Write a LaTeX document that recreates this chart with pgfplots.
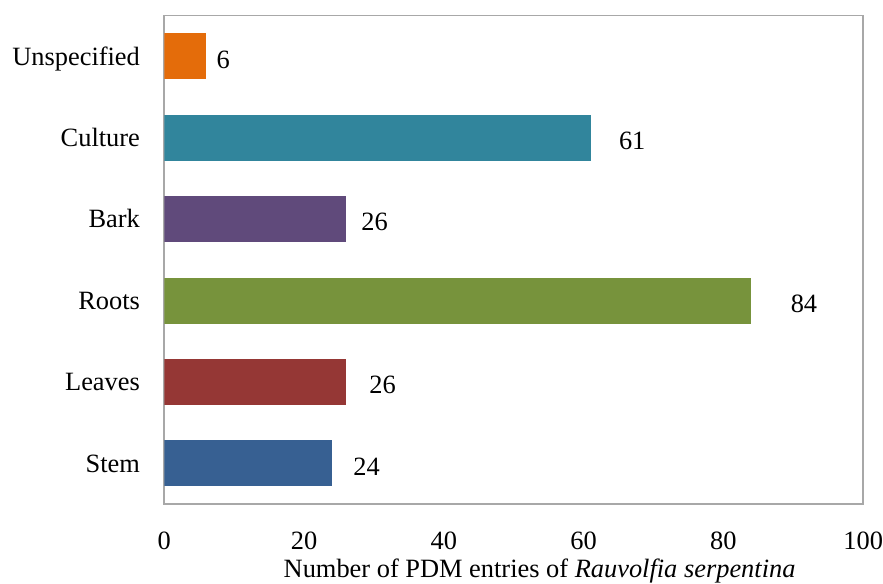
\documentclass[border=0pt]{standalone}
\usepackage{fontspec}
\setmainfont{Liberation Serif}
\usepackage{pgfplots}
\pgfplotsset{compat=1.18}

\definecolor{cStem}{HTML}{376092}
\definecolor{cLeaves}{HTML}{953735}
\definecolor{cRoots}{HTML}{77933C}
\definecolor{cBark}{HTML}{604A7B}
\definecolor{cCulture}{HTML}{31859C}
\definecolor{cUnspec}{HTML}{E46C0A}
\definecolor{frame}{HTML}{A8A8A8}

\begin{document}
\fontsize{13.2bp}{15.8bp}\selectfont
\begin{tikzpicture}
\begin{axis}[
  name=ax,
  scale only axis,
  width=349.5bp, height=244.2bp,
  xmin=0, xmax=100,
  ymin=-0.5, ymax=5.5,
  xbar, bar width=23bp, bar shift=0pt,
  xtick={0,20,...,100},
  ytick={0,1,2,3,4,5},
  yticklabels={Stem,Leaves,Roots,Bark,Culture,Unspecified},
  major tick length=0pt,
  axis line style={draw=frame, line width=0.8bp},
  /pgf/number format/assume math mode=true,
  xticklabel style={anchor=north, inner sep=0pt, yshift=-13.9bp},
  yticklabel style={anchor=base east, inner sep=0pt, xshift=-12bp, yshift=-4.4bp},
  xlabel={Number of PDM entries of \textit{Rauvolfia serpentina}},
  xlabel style={at={(rel axis cs:0.537,0)}, anchor=base, inner sep=0pt, yshift=-36.7bp},
  nodes near coords,
  nodes near coords style={anchor=west, inner sep=0pt, yshift=-1.6bp, text=black},
]
\addplot[fill=cStem, draw=none, every node near coord/.append style={xshift=10.5bp}]
  coordinates {(24,0)};
\addplot[fill=cLeaves, draw=none, every node near coord/.append style={xshift=11.5bp}]
  coordinates {(26,1)};
\addplot[fill=cRoots, draw=none, every node near coord/.append style={xshift=19.5bp}]
  coordinates {(84,2)};
\addplot[fill=cBark, draw=none, every node near coord/.append style={xshift=7.5bp}]
  coordinates {(26,3)};
\addplot[fill=cCulture, draw=none, every node near coord/.append style={xshift=14bp}]
  coordinates {(61,4)};
\addplot[fill=cUnspec, draw=none, every node near coord/.append style={xshift=5bp}]
  coordinates {(6,5)};
\end{axis}
\path[use as bounding box] ([shift={(-82.15bp,-39.5bp)}]ax.south west)
  rectangle ([shift={(9.85bp,7.85bp)}]ax.north east);
\end{tikzpicture}
\end{document}
